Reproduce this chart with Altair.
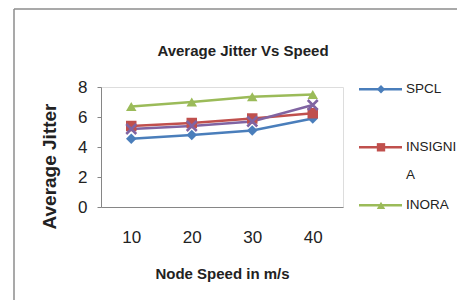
import altair as alt
import pandas as pd

# ---- data ----
speeds = ["10", "20", "30", "40"]
spcl = [4.55, 4.8, 5.1, 5.9]
insignia = [5.4, 5.6, 5.9, 6.25]
inora = [6.7, 7.0, 7.35, 7.5]
series4 = [5.2, 5.4, 5.7, 6.8]

series_names = ["SPCL", "INSIGNIA", "INORA", "Series4"]
series_colors = ["#4A7EBB", "#C0504D", "#9BBB59", "#8064A2"]
legend_names = ["SPCL", "INSIGNIA", "INORA"]
legend_labels = ["SPCL", "INSIGNI\nA", "INORA"]

y_ticks = [0, 2, 4, 6, 8]

FONT = "Liberation Sans"
GREY = "#868686"
TXT = "#222222"

rows = []
for name, vals in zip(series_names, [spcl, insignia, inora, series4]):
    for s, v in zip(speeds, vals):
        rows.append({"speed": s, "value": v, "series": name})
df = pd.DataFrame(rows)

leg = pd.DataFrame({"series": legend_names, "label": legend_labels})

color_scale = alt.Scale(domain=series_names, range=series_colors)
shape_scale = alt.Scale(domain=["SPCL", "INSIGNIA", "INORA"],
                        range=["diamond", "square", "triangle-up"])

x_enc = alt.X("speed:N", sort=speeds,
              scale=alt.Scale(type="point", padding=0.5, domain=speeds),
              axis=alt.Axis(title="Node Speed in m/s", ticks=False,
                            domainColor=GREY, labelAngle=0,
                            labelFont=FONT, labelFontSize=17, labelColor=TXT,
                            labelPadding=22, labelBaseline="top",
                            titleFont=FONT, titleFontSize=15, titleFontWeight="bold",
                            titleColor=TXT, titleY=71, titleBaseline="alphabetic"))
y_enc = alt.Y("value:Q", scale=alt.Scale(domain=[0, 8]),
              axis=alt.Axis(values=y_ticks, grid=False, domainColor=GREY,
                            tickColor=GREY, tickSize=4,
                            labelFont=FONT, labelFontSize=17, labelColor=TXT,
                            labelPadding=10,
                            title="Average Jitter", titleFont=FONT,
                            titleFontSize=19, titleFontWeight="bold", titleColor=TXT,
                            titleAngle=270, titleX=-46, titleY=79,
                            titleAlign="center", titleBaseline="alphabetic"))
color_enc = alt.Color("series:N", scale=color_scale, legend=None)

base = alt.Chart(df)
lines = base.mark_line(strokeWidth=2.5).encode(x=x_enc, y=y_enc, color=color_enc,
                                               detail="series:N")
pts = base.transform_filter(alt.datum.series != "Series4").mark_point(
    filled=True, opacity=1, size=110).encode(
    x=x_enc, y=y_enc, color=color_enc,
    shape=alt.Shape("series:N", scale=shape_scale, legend=None))
crosses = base.transform_filter(alt.datum.series == "Series4").mark_point(
    shape="M-1,-1L1,1M-1,1L1,-1", filled=False, opacity=1, size=100,
    strokeWidth=2.5).encode(x=x_enc, y=y_enc, color=color_enc)

data_layer = alt.layer(lines, pts, crosses)

# ---- legend (drawn on the right, positioned by its own point scale) ----
leg_y = alt.Y("series:N", sort=legend_names,
              scale=alt.Scale(type="point", domain=legend_names, range=[2.3, 118.3], padding=0),
              axis=None)
lbase = alt.Chart(leg)
leg_rules = lbase.mark_rule(strokeWidth=2.5).encode(
    x=alt.value(258), x2=alt.value(301), y=leg_y, color=color_enc)
leg_pts = lbase.mark_point(filled=True, opacity=1, size=70).encode(
    x=alt.value(280), y=leg_y, color=color_enc,
    shape=alt.Shape("series:N", scale=shape_scale, legend=None))
leg_text = lbase.mark_text(align="left", baseline="middle", font=FONT, fontSize=13.5,
                           color=TXT, lineBreak="\n", lineHeight=28).encode(
    x=alt.value(305), y=leg_y, text="label:N")
legend_layer = alt.layer(leg_rules, leg_pts, leg_text)

# ---- frame and title ----
one = pd.DataFrame({"title": ["Average Jitter Vs Speed"]})
fbase = alt.Chart(one)
frame_top = fbase.mark_rule(color="#8c8c8c", strokeWidth=1.5).encode(
    x=alt.value(-87), x2=alt.value(360), y=alt.value(-78))
frame_left = fbase.mark_rule(color="#8c8c8c", strokeWidth=1.5).encode(
    x=alt.value(-87), y=alt.value(-78), y2=alt.value(215))
title = fbase.mark_text(font=FONT, fontSize=15, fontWeight="bold", color=TXT,
                        align="center", baseline="alphabetic").encode(
    x=alt.value(142), y=alt.value(-31), text="title:N")
frame_layer = alt.layer(frame_top, frame_left, title)

chart = alt.layer(frame_layer, data_layer, legend_layer).resolve_scale(
    y="independent"
).properties(
    width=242, height=120,
    autosize=alt.AutoSizeParams(type="none"),
    padding={"left": 93, "top": 79, "right": 114, "bottom": 93},
).configure_view(strokeWidth=0).configure(background="white")

chart.save("out.html", embed_options={"renderer": "svg", "actions": False})
